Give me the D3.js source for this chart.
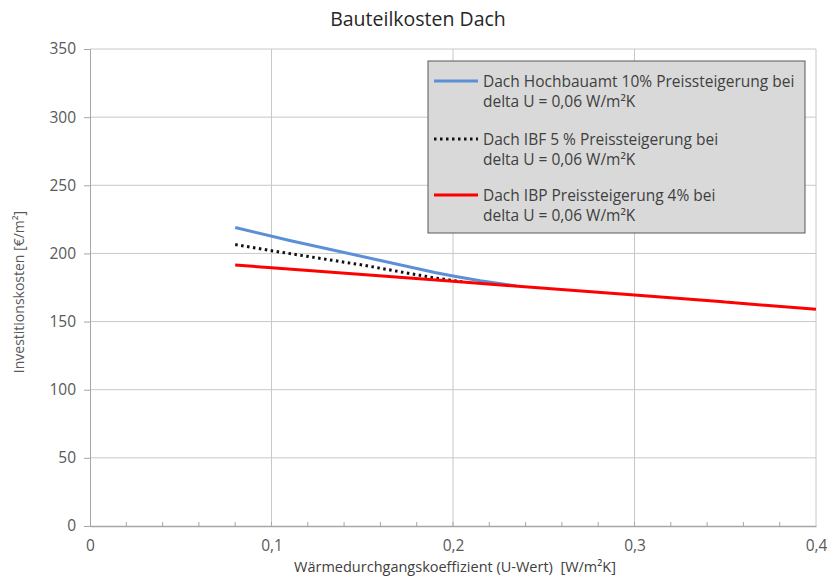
<!DOCTYPE html>
<html>
<head>
<meta charset="utf-8">
<script src="https://cdn.jsdelivr.net/npm/d3@7"></script>
<style>
  html, body { margin: 0; padding: 0; background: #fff; }
  svg { display: block; font-family: "Open Sans", "Noto Sans", sans-serif; }
</style>
</head>
<body>
<svg id="chart" width="827" height="577"></svg>
<script>
// Series: U-Wert [W/m²K] against Investitionskosten [€/m²]
const hochbauamtU = [0.08, 0.11, 0.19, 0.20, 0.215, 0.235];
const hochbauamtK = [219, 209.5, 186, 183.5, 180, 176.2];

const ibfU = [0.08, 0.10, 0.15, 0.19, 0.205];
const ibfK = [206.5, 202, 191.5, 182, 179.2];

const ibpU = [0.08, 0.10, 0.20, 0.30, 0.347, 0.35, 0.40];
const ibpK = [191.5, 189.5, 179.5, 169.5, 164.8, 164.3, 159];

const xTicks = [0, 0.1, 0.2, 0.3, 0.4];
const xTickLabels = ["0", "0,1", "0,2", "0,3", "0,4"];
const yTicks = [0, 50, 100, 150, 200, 250, 300, 350];

const legendLabels = [
  ["Dach Hochbauamt 10% Preissteigerung bei", "delta U = 0,06 W/m²K"],
  ["Dach IBF 5 % Preissteigerung bei", "delta U = 0,06 W/m²K"],
  ["Dach IBP Preissteigerung 4% bei", "delta U = 0,06 W/m²K"]
];

const svg = d3.select("#chart");
const plotL = 90, plotR = 816, plotT = 49, plotB = 526;

const x = d3.scaleLinear().domain([0, 0.4]).range([plotL, plotR]);
const y = d3.scaleLinear().domain([0, 350]).range([plotB, plotT]);

// gridlines
const grid = svg.append("g");
grid.selectAll("line.h").data(yTicks.slice(1)).enter().append("line")
  .attr("x1", plotL).attr("x2", plotR)
  .attr("y1", d => y(d)).attr("y2", d => y(d))
  .attr("stroke", "#c8c8c8").attr("stroke-width", 1);
grid.selectAll("line.v").data(xTicks.slice(1)).enter().append("line")
  .attr("x1", d => x(d)).attr("x2", d => x(d))
  .attr("y1", plotT).attr("y2", plotB)
  .attr("stroke", "#c8c8c8").attr("stroke-width", 1);

// y axis
const yAxis = d3.axisLeft(y).tickValues(yTicks).tickSize(6).tickFormat(d => d);
const gy = svg.append("g").attr("transform", `translate(${plotL},0)`).call(yAxis);
gy.select(".domain").attr("stroke", "#a6a6a6");
gy.selectAll(".tick line").attr("stroke", "#a6a6a6");
gy.selectAll(".tick text").attr("fill", "#595959").attr("font-size", 15.5)
  .attr("font-family", "Open Sans, sans-serif").attr("x", -14);

// x axis: major labels, minor ticks every 0.02 pointing inward
const xAxis = d3.axisBottom(x).tickValues(xTicks).tickSize(0)
  .tickFormat((d, i) => xTickLabels[i]).tickPadding(14);
const gx = svg.append("g").attr("transform", `translate(0,${plotB})`).call(xAxis);
gx.select(".domain").attr("stroke", "#a6a6a6").attr("stroke-width", 1.5);
gx.selectAll(".tick text").attr("fill", "#595959").attr("font-size", 15.5)
  .attr("font-family", "Open Sans, sans-serif");
const minor = d3.range(1, 20).map(i => i * 0.02);
svg.append("g").selectAll("line").data(minor).enter().append("line")
  .attr("x1", d => x(d)).attr("x2", d => x(d))
  .attr("y1", plotB).attr("y2", plotB - 4)
  .attr("stroke", "#a6a6a6");

// series lines
const line = d3.line().x(d => x(d[0])).y(d => y(d[1]));
const zip = (a, b) => a.map((v, i) => [v, b[i]]);

svg.append("path").datum(zip(hochbauamtU, hochbauamtK))
  .attr("d", line).attr("fill", "none")
  .attr("stroke", "#5b8fd6").attr("stroke-width", 3);
svg.append("path").datum(zip(ibfU, ibfK))
  .attr("d", line).attr("fill", "none")
  .attr("stroke", "#111").attr("stroke-width", 3)
  .attr("stroke-dasharray", "2.5 3.5");
svg.append("path").datum(zip(ibpU, ibpK))
  .attr("d", line).attr("fill", "none")
  .attr("stroke", "#ff0000").attr("stroke-width", 3);

// legend
const lg = svg.append("g");
lg.append("rect").attr("x", 428).attr("y", 61).attr("width", 377).attr("height", 172)
  .attr("fill", "#d9d9d9").attr("stroke", "#595959").attr("stroke-width", 1);
const legendStyles = [
  { color: "#5b8fd6", dash: null },
  { color: "#111", dash: "2.5 3.5" },
  { color: "#ff0000", dash: null }
];
const rowY = [81, 139, 195];
legendLabels.forEach((lines, i) => {
  lg.append("line").attr("x1", 434).attr("x2", 478)
    .attr("y1", rowY[i]).attr("y2", rowY[i])
    .attr("stroke", legendStyles[i].color).attr("stroke-width", 3)
    .attr("stroke-dasharray", legendStyles[i].dash);
  lines.forEach((t, j) => {
    lg.append("text").attr("x", 483).attr("y", rowY[i] + 6 + j * 20)
      .attr("font-size", 15.5).attr("fill", "#404040").text(t);
  });
});

// titles
svg.append("text").attr("x", 418).attr("y", 26).attr("text-anchor", "middle")
  .attr("font-size", 19.5).attr("fill", "#262626").text("Bauteilkosten Dach");
svg.append("text").attr("x", 455).attr("y", 572).attr("text-anchor", "middle")
  .attr("font-size", 14.5).attr("fill", "#404040")
  .attr("xml:space", "preserve")
  .text("Wärmedurchgangskoeffizient (U-Wert)  [W/m²K]");
svg.append("text").attr("transform", "translate(24,292) rotate(-90)")
  .attr("text-anchor", "middle").attr("font-size", 14).attr("fill", "#595959")
  .text("Investitionskosten [€/m²]");
</script>
</body>
</html>
